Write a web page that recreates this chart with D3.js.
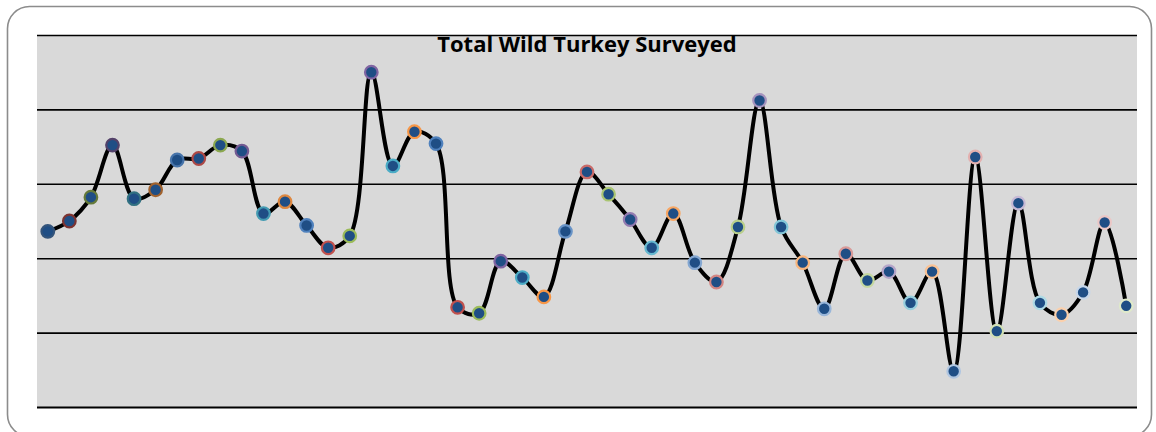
<!DOCTYPE html>
<html>
<head>
<meta charset="utf-8">
<script src="https://cdn.jsdelivr.net/npm/d3@7"></script>
<style>
  html, body { margin: 0; padding: 0; background: #ffffff; }
  svg { display: block; }
</style>
</head>
<body>
<svg id="chart" width="1156" height="432"></svg>
<script>
// ---- data ----
const title = "Total Wild Turkey Surveyed";
const categories = [
  "1","2","3","4","5","6","7","8","9","10",
  "11","12","13","14","15","16","17","18","19","20",
  "21","22","23","24","25","26","27","28","29","30",
  "31","32","33","34","35","36","37","38","39","40",
  "41","42","43","44","45","46","47","48","49","50","51"
];
const values = [
  118, 125, 141, 176, 140, 146, 166, 167, 176, 172,
  130, 138, 122, 107, 115, 225, 162, 185, 177, 67,
  63, 98, 87, 74, 118, 158, 143, 126, 107, 130,
  97, 84, 121, 206, 121, 97, 66, 103, 85, 91,
  70, 91, 24, 168, 51, 137, 70, 62, 77, 124, 68
];
const yTicks = [0, 50, 100, 150, 200, 250];
const baseColors = ["#4F81BD", "#C0504D", "#9BBB59", "#8064A2", "#4BACC6", "#F79646"];
// tint/shade per group of six points (negative = darker, positive = lighter)
const groupShade = [-0.35, -0.1, 0, 0, 0.15, 0.3, 0.42, 0.55, 0.68];

// ---- layout ----
const svg = d3.select("#chart");
const plot = { left: 37, right: 1137, top: 35, bottom: 407 };

// chart area frame
svg.append("rect")
  .attr("x", 7.5).attr("y", 6.5)
  .attr("width", 1144).attr("height", 430)
  .attr("rx", 22).attr("ry", 22)
  .attr("fill", "#ffffff")
  .attr("stroke", "#8c8c8c")
  .attr("stroke-width", 1.6);

const x = d3.scaleBand().domain(categories).range([plot.left, plot.right]).padding(0);
const y = d3.scaleLinear().domain([0, 250]).range([plot.bottom, plot.top]);

// plot background
svg.append("rect")
  .attr("x", plot.left).attr("y", plot.top)
  .attr("width", plot.right - plot.left).attr("height", plot.bottom - plot.top)
  .attr("fill", "#d9d9d9");

// gridlines via axis
const grid = svg.append("g")
  .attr("transform", `translate(${plot.left},0)`)
  .call(d3.axisLeft(y).tickValues(yTicks).tickSize(-(plot.right - plot.left)).tickFormat(""));
grid.select(".domain").remove();
grid.selectAll(".tick line")
  .attr("stroke", "#000")
  .attr("stroke-width", d => d === 0 ? 2 : 1.6);

// title
svg.append("text")
  .attr("x", (plot.left + plot.right) / 2)
  .attr("y", 52)
  .attr("text-anchor", "middle")
  .attr("font-family", "'Open Sans', 'Liberation Sans', sans-serif")
  .attr("font-weight", "bold")
  .attr("font-size", 22)
  .attr("fill", "#000")
  .text(title);

// smooth line
const data = categories.map((c, i) => ({ c, v: values[i], i }));
const line = d3.line()
  .x(d => x(d.c) + x.bandwidth() / 2)
  .y(d => y(d.v))
  .curve(d3.curveCatmullRom.alpha(0.5));

svg.append("path")
  .datum(data)
  .attr("d", line)
  .attr("fill", "none")
  .attr("stroke", "#000")
  .attr("stroke-width", 4)
  .attr("stroke-linejoin", "round");

function markerColor(i) {
  const base = d3.rgb(baseColors[i % 6]);
  const s = groupShade[Math.floor(i / 6)];
  if (s < 0) return d3.interpolateRgb(base, "#000")(-s).toString();
  return d3.interpolateRgb(base, "#fff")(s).toString();
}

svg.append("g").selectAll("circle")
  .data(data)
  .join("circle")
  .attr("cx", d => x(d.c) + x.bandwidth() / 2)
  .attr("cy", d => y(d.v))
  .attr("r", 6.3)
  .attr("fill", "#1F4E85")
  .attr("stroke", d => markerColor(d.i))
  .attr("stroke-width", 2.2);
</script>
</body>
</html>
